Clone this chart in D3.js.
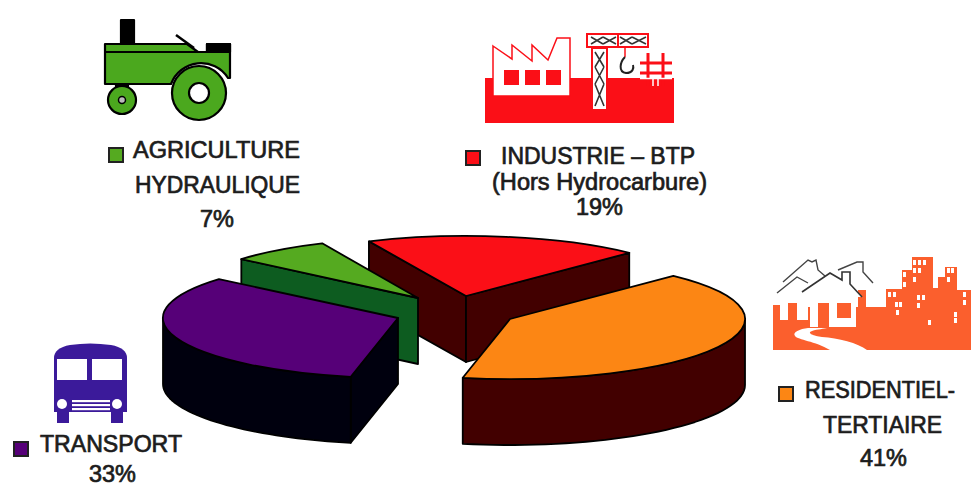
<!DOCTYPE html>
<html lang="fr">
<head>
<meta charset="utf-8">
<title>Consommation finale par secteur</title>
<script src="https://cdn.jsdelivr.net/npm/d3@7"></script>
<style>
  html, body { margin: 0; padding: 0; background: #fff; }
  svg { display: block; }
  text { font-family: "Liberation Sans", Arial, sans-serif; font-size: 23px; fill: #1c1c1c; stroke: #1c1c1c; stroke-width: .7px; }
</style>
</head>
<body>
<svg id="chart" width="971" height="487"></svg>
<script>
// Sector shares, in the clockwise order of the pie
const sectors = ["RESIDENTIEL-TERTIAIRE", "TRANSPORT", "AGRICULTURE HYDRAULIQUE", "INDUSTRIE - BTP"];
const shares = [41, 33, 7, 19];
const topColours = ["#fc8614", "#560078", "#55aa20", "#fb0f17"];
const wallColours = ["#420000", "#00000e", "#0d5c20", "#420000"];

// Exploded position and horizontal radius of each slice
const sliceX = [510, 398, 418, 466];
const sliceY = [319, 318, 298, 296];
const sliceRx = [235, 235, 232, 235];
const tiltedRy = 60;
const depth = 66;
const firstAngle = 44 * Math.PI / 180;

// Labels: text, left edge, width, baseline
const labelText = ["AGRICULTURE", "HYDRAULIQUE", "7%", "INDUSTRIE – BTP", "(Hors  Hydrocarbure)", "19%",
                   "RESIDENTIEL-", "TERTIAIRE", "41%", "TRANSPORT", "33%"];
const labelX = [133, 135, 200, 501, 492, 576, 805, 823, 860, 40, 89];
const labelW = [167, 165, 34, 194, 215, 47, 150, 119, 47, 142, 47];
const labelY = [158, 193, 227, 164, 190, 215, 398, 433, 466, 452, 482];

// Legend swatches follow the same colours as the slices
const swatchX = [778, 13, 108, 465];
const swatchY = [386, 441, 147, 150];

const svg = d3.select("#chart");
const pie = d3.pie().sort(null).startAngle(firstAngle).endAngle(firstAngle + 2 * Math.PI);
const slices = pie(shares).map((d, i) => ({
  ...d, i,
  cx: sliceX[i], cy: sliceY[i], rx: sliceRx[i]
}));

const unitArc = d3.arc().innerRadius(0).outerRadius(1);
const px = (s, a) => s.cx + s.rx * Math.sin(a);
const py = (s, a) => s.cy - tiltedRy * Math.cos(a);
const outline = d3.line();
const pieLayer = svg.append("g");

function wall(g, s, pts) {
  g.append("path")
    .attr("d", outline(pts) + "Z")
    .attr("fill", wallColours[s.i])
    .attr("stroke", "#000")
    .attr("stroke-width", 1.8)
    .attr("stroke-linejoin", "round");
}

// Slices are painted back to front so nearer walls cover farther ones
[3, 2, 1, 0].forEach(idx => {
  const s = slices[idx];
  const g = pieLayer.append("g");

  // A straight cut face shows only when it turns toward the viewer
  [s.startAngle, s.endAngle].forEach((a, k) => {
    const sn = Math.sin(a);
    if ((k === 0 && sn < 0) || (k === 1 && sn > 0)) {
      wall(g, s, [[s.cx, s.cy], [px(s, a), py(s, a)], [px(s, a), py(s, a) + depth], [s.cx, s.cy + depth]]);
    }
  });

  // Rim: only the part on the front half of the ellipse
  const from = Math.max(s.startAngle, Math.PI / 2);
  const to = Math.min(s.endAngle, 3 * Math.PI / 2);
  if (to > from) {
    const steps = d3.range(0, 41).map(t => from + (to - from) * t / 40);
    const upper = steps.map(a => [px(s, a), py(s, a)]);
    const lower = steps.slice().reverse().map(a => [px(s, a), py(s, a) + depth]);
    wall(g, s, upper.concat(lower));
  }

  // Top face: a unit arc squashed onto the tilted ellipse
  g.append("path")
    .attr("d", unitArc({ startAngle: s.startAngle, endAngle: s.endAngle }))
    .attr("transform", `translate(${s.cx},${s.cy}) scale(${s.rx},${tiltedRy})`)
    .attr("fill", topColours[s.i])
    .attr("stroke", "#000")
    .attr("stroke-width", 1.8)
    .attr("stroke-linejoin", "round")
    .attr("vector-effect", "non-scaling-stroke");
});

// Labels
svg.append("g").selectAll("text").data(labelText).join("text")
  .attr("x", (d, i) => labelX[i])
  .attr("y", (d, i) => labelY[i])
  .attr("textLength", (d, i) => labelW[i])
  .attr("lengthAdjust", "spacingAndGlyphs")
  .text(d => d);

// Legend swatches
svg.append("g").selectAll("rect").data(shares).join("rect")
  .attr("x", (d, i) => swatchX[i] + 1)
  .attr("y", (d, i) => swatchY[i] + 1)
  .attr("width", 14).attr("height", 14)
  .attr("fill", (d, i) => topColours[i])
  .attr("stroke", "#222").attr("stroke-width", 2);

// Tractor pictogram
const tractor = svg.append("g").attr("stroke", "#000").attr("stroke-width", 2.2).attr("stroke-linejoin", "round");
const green = "#4ba81e";
tractor.append("rect").attr("x", 121).attr("y", 20).attr("width", 13).attr("height", 25).attr("fill", "#000");
tractor.append("path").attr("d", "M105,44H187L198,52H207V44H230V78H228A32,32 0 0 0 171,84H105Z").attr("fill", green);
tractor.append("rect").attr("x", 207).attr("y", 44).attr("width", 23).attr("height", 8).attr("fill", "#000");
tractor.append("path").attr("d", "M105,52H198").attr("fill", "none");
tractor.append("path").attr("d", "M176,35L194,48").attr("fill", "none").attr("stroke-width", 2.5);
tractor.append("circle").attr("cx", 199).attr("cy", 93).attr("r", 27).attr("fill", green);
tractor.append("circle").attr("cx", 199).attr("cy", 93).attr("r", 10).attr("fill", "#fff");
tractor.append("rect").attr("x", 116).attr("y", 84).attr("width", 12).attr("height", 3).attr("fill", "#000");
tractor.append("circle").attr("cx", 122).attr("cy", 100).attr("r", 14).attr("fill", green);
tractor.append("circle").attr("cx", 122).attr("cy", 100).attr("r", 3.5).attr("fill", "#bbb").attr("stroke-width", 1.5);

// Factory and crane pictogram
const redIcon = "#fb0f17";
const plant = svg.append("g");
plant.append("rect").attr("x", 485).attr("y", 78).attr("width", 189).attr("height", 45).attr("fill", redIcon);
plant.append("path").attr("d", "M493,46L512,59V45L532,61V45L548,60L557,38H570V96H493Z")
  .attr("fill", "#fff").attr("stroke", redIcon).attr("stroke-width", 1.5);
plant.selectAll(".win").data([504, 525, 546]).join("rect")
  .attr("x", d => d).attr("y", 70).attr("width", 15).attr("height", 15).attr("fill", redIcon);
plant.append("rect").attr("x", 592).attr("y", 48).attr("width", 15).attr("height", 62)
  .attr("fill", "#fff").attr("stroke", redIcon).attr("stroke-width", 2);
plant.append("rect").attr("x", 587).attr("y", 34).attr("width", 61).attr("height", 13)
  .attr("fill", "#fff").attr("stroke", redIcon).attr("stroke-width", 2);
plant.append("path").attr("d", "M618,34V47").attr("stroke", redIcon).attr("stroke-width", 2);
// Lattice of the crane jib and mast
plant.append("path")
  .attr("d", "M591,37L603,44M603,37L591,44M603,37L616,44M616,37L603,44M620,37L632,44M632,37L620,44M632,37L646,44M646,37L632,44"
    + "M595,52L604,67M604,52L595,67M595,67L604,84M604,67L595,84M595,84L604,106M604,84L595,106")
  .attr("stroke", "#333").attr("stroke-width", 1.6).attr("fill", "none");
plant.append("path").attr("d", "M625,47V57").attr("stroke", redIcon).attr("stroke-width", 1.5);
plant.append("path").attr("d", "M625,57C620,62 618,72 626,73C633,73 634,68 633,65").attr("fill", "none").attr("stroke", "#222").attr("stroke-width", 2);
plant.append("path").attr("d", "M640,63H672M640,73H672M648,53V86M663,53V86")
  .attr("stroke", redIcon).attr("stroke-width", 3).attr("fill", "none");
plant.append("path").attr("d", "M640,78.5H672M653,78V86M658,78V86").attr("stroke", "#fff").attr("stroke-width", 1.5);

// Houses and city skyline pictogram
const coral = "#fb5f2d";
const city = svg.append("g");
city.append("path")
  .attr("d", "M773,305H780V320H788V303H797V320H808V307H886V289H902V270H912V257H933V288H938V277H945V267H957V290H971V350H773Z")
  .attr("fill", coral);
// Lit windows across the towers
const windowX = [913, 918, 923, 913, 918, 903, 913, 903, 917, 922, 917, 888, 893, 895, 899, 896, 928, 947, 951, 947, 954, 954, 963, 963];
const windowY = [260, 260, 260, 268, 268, 272, 277, 282, 295, 295, 303, 292, 292, 302, 302, 310, 320, 268, 268, 277, 312, 318, 292, 300];
city.selectAll(".light").data(windowX).join("rect")
  .attr("x", d => d)
  .attr("y", (d, i) => windowY[i])
  .attr("width", 3).attr("height", 5).attr("fill", "#fff");
// Back houses, drawn as roof outlines over a white gable
city.append("path").attr("d", "M858,290H866V307H858Z").attr("fill", coral);
city.append("path")
  .attr("d", "M777,293L797,277L808,283M783,282L808,260L812,262L816,260L818,270L825,276M838,270L857,262L863,262V272L873,283")
  .attr("fill", "none").attr("stroke", "#444").attr("stroke-width", 1.4);
// Main house in front, with its door and window
city.append("path").attr("d", "M802,292L830,273L842,280V272H850V284L862,297H856V327H810V292Z").attr("fill", "#fff");
city.append("path").attr("d", "M802,292L830,273L842,280V272H850V284L862,297")
  .attr("fill", "none").attr("stroke", "#333").attr("stroke-width", 1.6);
city.append("rect").attr("x", 818).attr("y", 303).attr("width", 11).attr("height", 24).attr("fill", coral);
city.append("rect").attr("x", 837).attr("y", 303).attr("width", 14).attr("height", 15).attr("fill", coral);
city.append("path").attr("d", "M808,328C800,329 792,332 795,336C798,340 815,341 830,350H867C858,343 838,338 822,337C814,336 806,333 812,331C818,329 824,329 827,328Z")
  .attr("fill", "#fff");

// Bus pictogram
const busBlue = "#3b1a9a";
const bus = svg.append("g");
bus.append("path").attr("d", "M54,412V358Q54,348 70,345Q90,342 111,345Q127,348 127,358V412Z").attr("fill", busBlue);
bus.selectAll(".wheel").data([57, 111]).join("rect")
  .attr("x", d => d).attr("y", 410).attr("width", 12).attr("height", 13).attr("fill", busBlue);
bus.selectAll(".pane").data([57, 92]).join("rect")
  .attr("x", d => d).attr("y", 359).attr("width", 30).attr("height", 21).attr("fill", "#fff");
bus.selectAll(".lamp").data([62, 117]).join("circle")
  .attr("cx", d => d).attr("cy", 404).attr("r", 5).attr("fill", "#fff");
bus.selectAll(".grille").data([400, 404, 408]).join("rect")
  .attr("x", 72).attr("y", d => d).attr("width", 38).attr("height", 2.2).attr("fill", "#fff");
</script>
</body>
</html>
